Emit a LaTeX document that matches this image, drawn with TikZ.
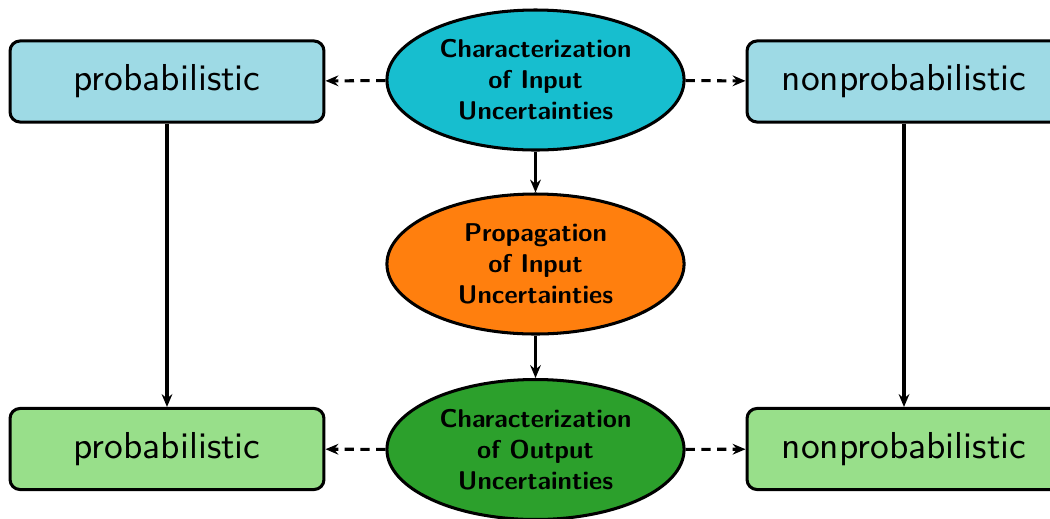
\documentclass[tikz,border=0pt]{standalone}
\usetikzlibrary{shapes.geometric,arrows.meta}
\definecolor{lblue}{HTML}{9EDAE5}
\definecolor{tcyan}{HTML}{17BECF}
\definecolor{torange}{HTML}{FF7F0E}
\definecolor{tgreen}{HTML}{2CA02C}
\definecolor{lgreen}{HTML}{98DF8A}
\tikzset{
  box/.style={draw=black, line width=0.85pt, rounded corners=2.8pt, minimum width=87.9pt, minimum height=22.7pt, inner sep=0pt, font=\sffamily\fontsize{10.5}{12}\selectfont},
  ell/.style={draw=black, ellipse, line width=0.85pt, minimum width=83.2pt, minimum height=39.2pt, inner sep=0pt, align=center, font=\sffamily\bfseries\fontsize{7.2}{8.7}\selectfont},
  conn/.style={line width=0.85pt, -{Stealth[length=3.6pt,width=3pt,inset=1.2pt]}},
  dconn/.style={conn, dash pattern=on 2.6pt off 1.8pt}
}
\begin{document}
\begin{tikzpicture}[x=0.28pt,y=-0.28pt]
\useasboundingbox (0,0) rectangle (1050,518);
\node[ell, fill=tcyan] (ci) at (535.5,80) {Characterization\\of Input\\Uncertainties};
\node[ell, fill=torange] (pi) at (535.5,264) {Propagation\\of Input\\Uncertainties};
\node[ell, fill=tgreen] (co) at (535.5,449.5) {Characterization\\of Output\\Uncertainties};
\node[box, fill=lblue] (tl) at (167,81.5) {probabilistic};
\node[box, fill=lblue] (tr) at (904,81.5) {nonprobabilistic};
\node[box, fill=lgreen] (bl) at (167,449) {probabilistic};
\node[box, fill=lgreen] (br) at (904,449) {nonprobabilistic};
\draw[dconn] (ci) -- (tl);
\draw[dconn] (ci) -- (tr);
\draw[dconn] (co) -- (bl);
\draw[dconn] (co) -- (br);
\draw[conn] (ci) -- (pi);
\draw[conn] (pi) -- (co);
\draw[conn] (tl) -- (bl);
\draw[conn] (tr) -- (br);
\end{tikzpicture}
\end{document}
